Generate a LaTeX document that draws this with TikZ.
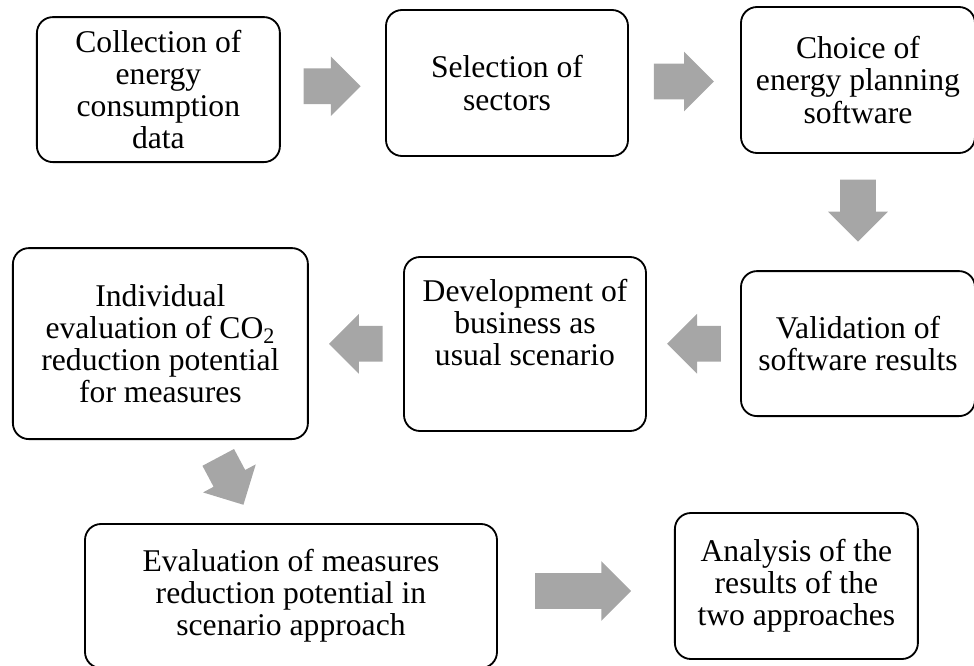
\documentclass[tikz,border=0pt]{standalone}
\usepackage{fontspec}
\setmainfont{Liberation Serif}
\usetikzlibrary{shapes.arrows, calc}

\begin{document}
\begin{tikzpicture}[box/.style={draw, line width=1.3pt, rounded corners=0.4cm,
                        align=center, inner sep=0pt,
                        font=\fontsize{22.5}{22.8}\selectfont},
                    bigarrow/.style={single arrow, fill=black!35, draw=none,
                        inner sep=0.44cm, anchor=tail,
                        single arrow head extend=0.3cm,
                        minimum width=1.475cm}]
\useasboundingbox (0,0) rectangle (24.35,-16.65);

\node[box, minimum width=6.075cm, minimum height=3.625cm](1) at (3.96,-2.24)
    {Collection of\\energy\\consumption\\data};
\node[box, minimum width=6.05cm, minimum height=3.65cm](2) at (12.675,-2.075)
    {Selection of\\sectors};
\node[box, minimum width=5.85cm, minimum height=3.65cm](3) at (21.45,-2.0)
    {Choice of\\energy planning\\software};
\node[box, minimum width=5.85cm, minimum height=3.625cm](4) at (21.45,-8.59)
    {Validation of\\software results};
\node[box, minimum width=6.05cm, minimum height=4.35cm](5) at (13.125,-8.6)
    {Development of\\business as\\usual scenario\\[0.3cm]};
\node[box, minimum width=7.375cm, minimum height=4.775cm](6) at (4.01,-8.59)
    {Individual\\evaluation of CO\textsubscript{2}\\reduction potential\\for measures};
\node[box, minimum width=10.3cm, minimum height=3.6cm](7) at (7.275,-14.9)
    {Evaluation of measures\\reduction potential in\\scenario approach};
\node[box, minimum width=6.075cm, minimum height=3.65cm](8) at (19.91,-14.65)
    {Analysis of the\\results of the\\two approaches};

\node[bigarrow, minimum height=1.425cm](12)
    at ($(1.east)!0.5!(2.west)+(-0.74,0)$) {};
\node[bigarrow, minimum height=1.5cm](23)
    at ($(2.east)!0.5!(3.west)+(-0.77,0)$) {};
\node[bigarrow, minimum height=1.55cm, rotate=270](34)
    at ($(3.south)!0.5!(4.north)+(0,0.82)$) {};
\node[bigarrow, minimum height=1.275cm, rotate=180](45)
    at ($(4.west)!0.5!(5.east)+(0.69,0)$) {};
\node[bigarrow, minimum height=1.275cm, rotate=180](56)
    at ($(5.west)!0.5!(6.east)+(0.675,0)$) {};
\node[bigarrow, minimum height=1.275cm, rotate=-62](67)
    at ($(6.south)!0.5!(7.north)+(-0.19,0.61)$) {};
\node[bigarrow, minimum height=2.4cm](78)
    at ($(7.east)!0.5!(8.west)+(-1.275,0)$) {};

\end{tikzpicture}
\end{document}
